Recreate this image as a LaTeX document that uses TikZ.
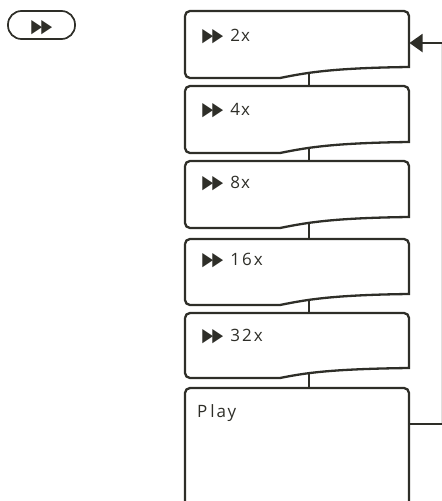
\documentclass[tikz,border=0pt]{standalone}
\usepackage{fontspec}
\usepackage{graphicx}
\setmainfont{Open Sans}
\newfontfamily\symfont{DejaVu Sans}
\usetikzlibrary{arrows.meta}
\definecolor{inkgray}{HTML}{2E2E28}
\newcommand{\ffwd}{{\symfont\fontsize{17}{18}\selectfont\scalebox{.83}[1.1]{\kern-1pt ▶\kern-1pt▶\kern-1pt}}}
% one speed box: name, top, left bottom, right bottom
\newcommand{\speedbox}[4]{
  \draw[boxline] (185,-#2-5) -- (185,-#3+5) arc[start angle=180,end angle=270,radius=5]
    -- (280,-#3) .. controls (305,-#3+5) and (330,-#4-1) .. (409,-#4)
    -- (409,-#2-5) arc[start angle=0,end angle=90,radius=5] -- (190,-#2)
    arc[start angle=90,end angle=180,radius=5];
  \node[boxspot,minimum height=#3pt-#2pt] (#1) at (297,-#2/2-#3/2) {};
  \coordinate (#1 low) at (309,-#3+5);
}
\tikzset{
  x=1pt,y=1pt,
  boxline/.style={line width=2.3pt,draw=inkgray},
  boxspot/.style={inner sep=0pt,minimum width=224pt},
  steptext/.style={anchor=base west,inner sep=0pt,text=inkgray,font=\fontsize{17}{19}\selectfont},
  joinline/.style={line width=2.6pt,draw=inkgray},
}
\begin{document}
\begin{tikzpicture}
  \useasboundingbox (0,0) rectangle (442,-501);

  % button at top left
  \draw[line width=1.7pt,draw=inkgray,rounded corners=13.5pt] (8,-11) rectangle (75,-39);
  \node[inner sep=0pt,anchor=base west,text=inkgray] (button) at (32,-32) {\ffwd};

  \speedbox{twox}{11}{78}{67}
  \speedbox{fourx}{86}{153}{142}
  \speedbox{eightx}{161}{228}{217}
  \speedbox{sixteenx}{239}{305}{294}
  \speedbox{thirtytwox}{313}{378}{368}

  % last box runs off the page
  \begin{scope}
    \clip (170,-380) rectangle (442,-501);
    \draw[boxline] (185,-510) -- (185,-393) arc[start angle=180,end angle=90,radius=5]
      -- (404,-388) arc[start angle=90,end angle=0,radius=5] -- (409,-510);
  \end{scope}
  \node[boxspot,minimum height=113pt] (play) at (297,-444.5) {};

  \node[steptext] (twolabel) at (203,-41) {\ffwd\kern8pt 2\kern1pt x};
  \node[steptext] (fourlabel) at (203,-115) {\ffwd\kern8pt 4\kern1pt x};
  \node[steptext] (eightlabel) at (203,-188) {\ffwd\kern8pt 8\kern1pt x};
  \node[steptext] (sixteenlabel) at (203,-265) {\ffwd\kern8pt 1\kern2pt 6\kern2pt x};
  \node[steptext] (thirtytwolabel) at (203,-341) {\ffwd\kern8pt 3\kern2pt 2\kern2pt x};
  \node[steptext] (playlabel) at (197,-417) {P\kern3pt l\kern2pt a\kern1.5pt y};

  \draw[joinline] (twox low) -- (fourx.north -| twox low);
  \draw[joinline] (fourx low) -- (eightx.north -| fourx low);
  \draw[joinline] (eightx low) -- (sixteenx.north -| eightx low);
  \draw[joinline] (sixteenx low) -- (thirtytwox.north -| sixteenx low);
  \draw[joinline] (thirtytwox low) -- (play.north -| thirtytwox low);

  % way back up to the first box
  \coordinate (playturn) at (441.6,-424);
  \coordinate (twoturn) at (441.6,-43);
  \coordinate (twoin) at (409.5,-43);
  \coordinate (playout) at (409,-424);
  \draw[line width=1pt,draw=inkgray!15] (playturn) -- (twoturn);
  \draw[line width=1.3pt,draw=inkgray] (playout) -- (playturn);
  \draw[line width=2pt,draw=inkgray,-{Triangle[length=13pt,width=18pt]}] (twoturn) -- (twoin);
\end{tikzpicture}
\end{document}
